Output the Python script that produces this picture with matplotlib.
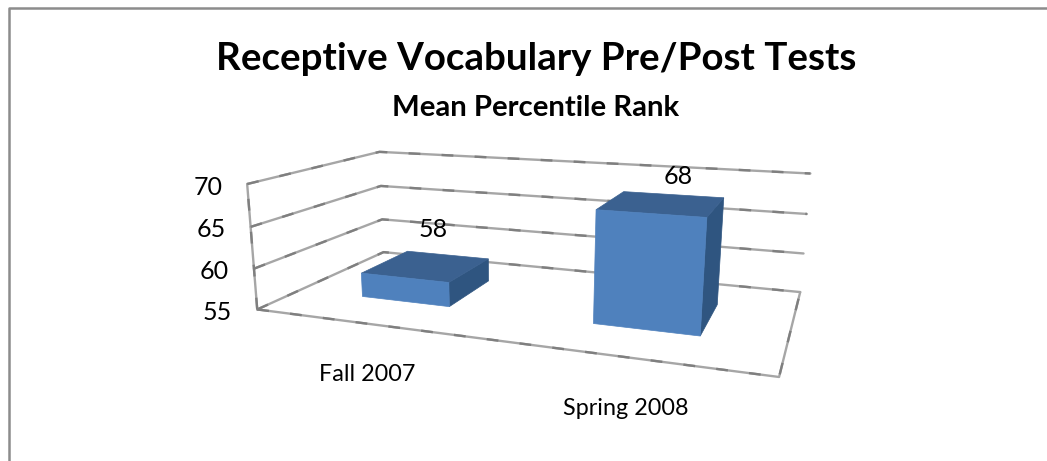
import matplotlib
matplotlib.use('Agg')
import matplotlib.pyplot as plt
from matplotlib.patches import Polygon
import numpy as np

categories = ['Fall 2007', 'Spring 2008']
values = [58, 68]
y_ticks = [55, 60, 65, 70]

plt.rcParams['font.family'] = ['Lato', 'DejaVu Sans']

# box corners (cat axis 0..2, value, depth 0..1) and where they land in the image
calib_world = [(0, 55, 0), (0, 70, 0), (0, 55, 1), (0, 70, 1), (2, 55, 1), (2, 70, 1), (2, 55, 0),
               (0, 60, 0), (0, 65, 0), (2, 60, 1), (2, 65, 1)]
calib_px = [(257, 310), (246, 184), (383, 252), (380, 152), (800, 292), (810, 174), (779, 377),
            (255, 268), (251, 227), (804, 254), (807, 213)]


def fit_projection(world, px):
    rows = []
    for (x, y, z), (u, v) in zip(world, px):
        rows.append([x, y, z, 1, 0, 0, 0, 0, -u * x, -u * y, -u * z, -u])
        rows.append([0, 0, 0, 0, x, y, z, 1, -v * x, -v * y, -v * z, -v])
    return np.linalg.svd(np.array(rows, dtype=float))[2][-1].reshape(3, 4)


P = fit_projection(calib_world, calib_px)


def project(x, y, z):
    u, v, w = P @ np.array([x, y, z, 1.0])
    return u / w, v / w


fig = plt.figure(figsize=(10.47, 4.61), dpi=100)
ax = fig.add_axes([0, 0, 1, 1])
ax.set_xlim(0, 1047)
ax.set_ylim(461, 0)
ax.axis('off')

# outer frame, only top and left show in the crop
ax.plot([8.5, 8.5, 1047], [461, 8, 8], color='#8c8c8c', lw=1.8)


def grid_line(pts):
    xs, ys = zip(*pts)
    ax.plot(xs, ys, color='#a6a6a6', lw=1.7, zorder=1, solid_capstyle='round')
    ax.plot(xs, ys, color='#7f7f7f', lw=1.7, zorder=1.1, dashes=(5, 9))


tick_gap = 25
for t in y_ticks:
    grid_line([project(0, t, 0), project(0, t, 1), project(2, t, 1)])
    lx, ly = project(0, t, 0)
    ax.text(lx - tick_gap, ly + 3, str(t), ha='right', va='center', fontsize=18, color='black')
grid_line([project(0, 55, 0), project(0, 70, 0)])
grid_line([project(0, 55, 0), project(2, 55, 0), project(2, 55, 1)])

# bars
bar_w = 0.2
depth = (0.3, 0.7)
base = y_ticks[0]
front = '#4f81bd'
top = '#3b6190'
side = '#2f5580'
label_dx = [-14, 5]
label_dy = [-25, -18]
for i, (cat, val) in enumerate(zip(categories, values)):
    c = i + 0.5
    x0, x1 = c - bar_w, c + bar_w
    z0, z1 = depth
    ax.add_patch(Polygon([project(x1, base, z0), project(x1, base, z1), project(x1, val, z1), project(x1, val, z0)],
                         facecolor=side, edgecolor=side, lw=0.5, zorder=3))
    ax.add_patch(Polygon([project(x0, val, z0), project(x1, val, z0), project(x1, val, z1), project(x0, val, z1)],
                         facecolor=top, edgecolor=top, lw=0.5, zorder=3))
    ax.add_patch(Polygon([project(x0, base, z0), project(x1, base, z0), project(x1, val, z0), project(x0, val, z0)],
                         facecolor=front, edgecolor=front, lw=0.5, zorder=4))
    tx, ty = project(c, val, z1)
    ax.text(tx + label_dx[i], ty + label_dy[i], str(val), ha='center', va='center', fontsize=18,
            color='black', zorder=5)
    lx, ly = project(c, base, 0)
    ax.text(lx, ly + 51, cat, ha='center', va='center', fontsize=16.8, color='black')

ax.text(536, 59, 'Receptive Vocabulary Pre/Post Tests', ha='center', va='center',
        fontsize=27.7, fontweight='bold', color='black')
ax.text(536, 108, 'Mean Percentile Rank', ha='center', va='center',
        fontsize=21.2, fontweight='bold', color='black')

fig.savefig('out.png', dpi=100)
